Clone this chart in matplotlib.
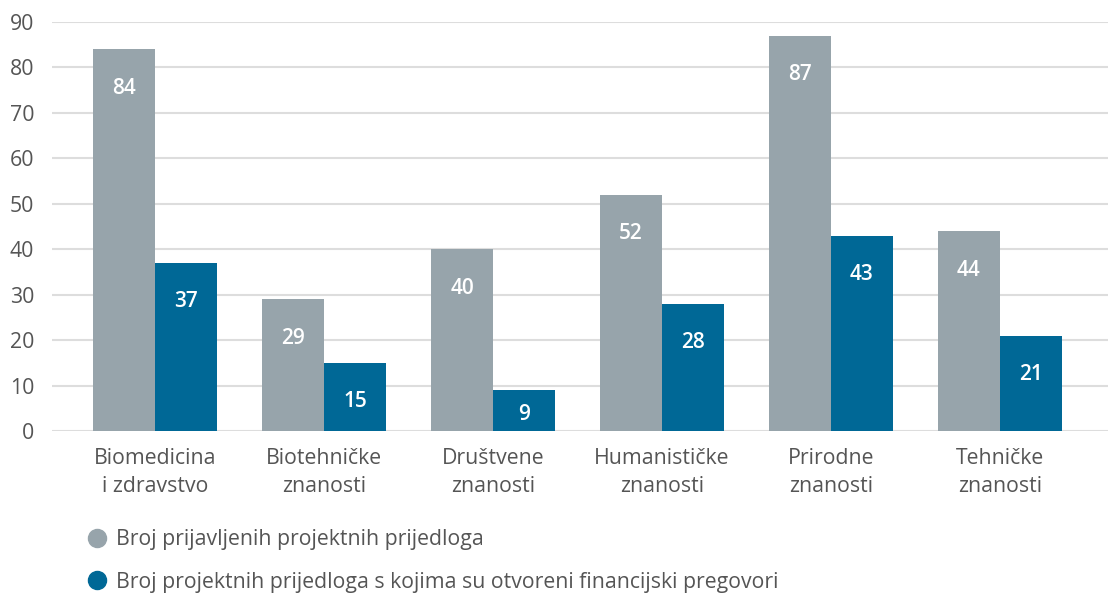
import matplotlib.pyplot as plt
import numpy as np
from matplotlib.lines import Line2D

categories = ['Biomedicina\ni zdravstvo', 'Biotehničke\nznanosti', 'Društvene\nznanosti',
              'Humanističke\nznanosti', 'Prirodne\nznanosti', 'Tehničke\nznanosti']
prijavljeni = [84, 29, 40, 52, 87, 44]
pregovori = [37, 15, 9, 28, 43, 21]
legend_labels = ['Broj prijavljenih projektnih prijedloga',
                 'Broj projektnih prijedloga s kojima su otvoreni financijski pregovori']

gray = '#97a4ab'
teal = '#006896'
text_col = '#555555'

plt.rcParams['font.family'] = ['Open Sans', 'DejaVu Sans']

fig = plt.figure(figsize=(11.08, 5.94), dpi=100)
ax = fig.add_axes([0.047, 0.2744, 0.953, 0.6886])

x = np.arange(len(categories))
w = 0.367
b1 = ax.bar(x - w / 2, prijavljeni, w, color=gray, zorder=2)
b2 = ax.bar(x + w / 2, pregovori, w, color=teal, zorder=2)

# labels sit ~39px under the bar top, but stay inside short bars
for bars, vals in [(b1, prijavljeni), (b2, pregovori)]:
    for bar, v in zip(bars, vals):
        ax.text(bar.get_x() + bar.get_width() / 2, max(v - 8.6, 3.7), str(v),
                ha='center', va='center', color='white',
                fontsize=15, fontweight='semibold')

ax.set_ylim(0, 90)
ax.set_yticks(range(0, 91, 10))
ax.set_xlim(-0.61, 5.64)
ax.set_xticks(x)
ax.set_xticklabels(categories, linespacing=1.45)
ax.tick_params(axis='both', length=0, labelsize=15.3, labelcolor=text_col)
ax.tick_params(axis='x', pad=12)
ax.tick_params(axis='y', pad=13)
ax.grid(axis='y', color='#dddddd', lw=1.5, zorder=0)
for s in ax.spines.values():
    s.set_visible(False)

handles = [Line2D([], [], marker='o', ls='', color=gray, markersize=13),
           Line2D([], [], marker='o', ls='', color=teal, markersize=13)]
leg = fig.legend(handles, legend_labels, loc='center left', frameon=False, fontsize=15.3,
                 labelcolor=text_col, handletextpad=0.4, labelspacing=1.0,
                 borderaxespad=0, borderpad=0, handlelength=1.0)
leg.set_bbox_to_anchor((0.078, 1 - 561 / 594), transform=fig.transFigure)

fig.savefig('out.png', dpi=100)
